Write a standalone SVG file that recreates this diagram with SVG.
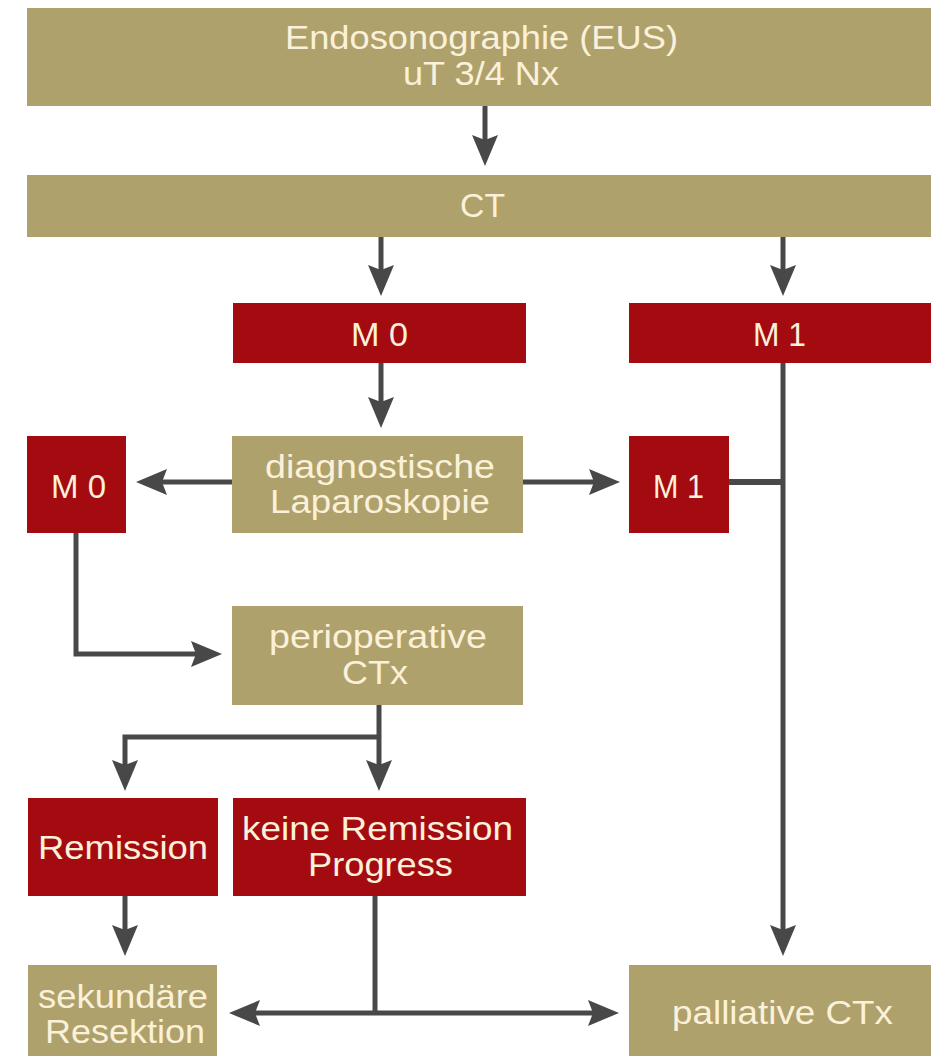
<svg xmlns="http://www.w3.org/2000/svg" width="931" height="1056" viewBox="0 0 931 1056">
<style>
.tan{fill:#afa16b}
.red{fill:#a30b10}
text{font-family:"Liberation Sans",Arial,sans-serif;font-size:34px;fill:#fbf1da;text-anchor:middle}
.ln{fill:none;stroke:#484848;stroke-width:5}
.ar{marker-end:url(#ah)}
</style>
<defs>
<marker id="ah" markerUnits="userSpaceOnUse" markerWidth="32" markerHeight="28" refX="20" refY="14" orient="auto-start-reverse" overflow="visible">
<path d="M0,1 L31,14 L0,27 L5,14 Z" fill="#484848"/>
</marker>
</defs>
<rect width="931" height="1056" fill="#ffffff"/>
<g id="eus">
<rect class="tan" x="27" y="8" width="910" height="98"/>
<text x="481.5" y="49" textLength="393" lengthAdjust="spacingAndGlyphs">Endosonographie (EUS)</text>
<text x="481" y="85" textLength="156" lengthAdjust="spacingAndGlyphs">uT 3/4 Nx</text>
</g>
<g id="ct">
<rect class="tan" x="27" y="175" width="910" height="62"/>
<text x="482.5" y="217" textLength="45" lengthAdjust="spacingAndGlyphs">CT</text>
</g>
<g id="m0top">
<rect class="red" x="233" y="303" width="293" height="60"/>
<text x="379.5" y="346" textLength="57" lengthAdjust="spacingAndGlyphs">M 0</text>
</g>
<g id="m1top">
<rect class="red" x="629" y="303" width="308" height="60"/>
<text x="779.5" y="346" textLength="53" lengthAdjust="spacingAndGlyphs">M 1</text>
</g>
<g id="m0small">
<rect class="red" x="27" y="436" width="99" height="97"/>
<text x="78.5" y="498" textLength="55" lengthAdjust="spacingAndGlyphs">M 0</text>
</g>
<g id="diag">
<rect class="tan" x="232" y="436" width="291" height="97"/>
<text x="380" y="478" textLength="230" lengthAdjust="spacingAndGlyphs">diagnostische</text>
<text x="380" y="513" textLength="220" lengthAdjust="spacingAndGlyphs">Laparoskopie</text>
</g>
<g id="m1small">
<rect class="red" x="629" y="436" width="100" height="97"/>
<text x="678.5" y="498" textLength="51" lengthAdjust="spacingAndGlyphs">M 1</text>
</g>
<g id="periop">
<rect class="tan" x="232" y="606" width="291" height="99"/>
<text x="378" y="648" textLength="218" lengthAdjust="spacingAndGlyphs">perioperative</text>
<text x="375" y="684" textLength="66" lengthAdjust="spacingAndGlyphs">CTx</text>
</g>
<g id="remission">
<rect class="red" x="28" y="798" width="190" height="98"/>
<text x="123" y="859" textLength="170" lengthAdjust="spacingAndGlyphs">Remission</text>
</g>
<g id="keine">
<rect class="red" x="233" y="798" width="293" height="98"/>
<text x="377.5" y="840" textLength="271" lengthAdjust="spacingAndGlyphs">keine Remission</text>
<text x="380.5" y="876" textLength="145" lengthAdjust="spacingAndGlyphs">Progress</text>
</g>
<g id="sekundaer">
<rect class="tan" x="28" y="965" width="189" height="100"/>
<text x="123" y="1008" textLength="170" lengthAdjust="spacingAndGlyphs">sekundäre</text>
<text x="125" y="1043" textLength="160" lengthAdjust="spacingAndGlyphs">Resektion</text>
</g>
<g id="palliativ">
<rect class="tan" x="629" y="965" width="308" height="100"/>
<text x="782.5" y="1024" textLength="221" lengthAdjust="spacingAndGlyphs">palliative CTx</text>
</g>
<g id="connectors">
<path class="ln ar" d="M485,106 V155"/>
<path class="ln ar" d="M381,237 V285"/>
<path class="ln ar" d="M783,237 V285"/>
<path class="ln ar" d="M381,363 V417"/>
<path class="ln ar" d="M232,482 H147"/>
<path class="ln ar" d="M523,482 H609"/>
<path class="ln" d="M729,482 H783" style="stroke-width:6"/>
<path class="ln ar" d="M783,363 V945"/>
<path class="ln ar" d="M76,533 V654 H211"/>
<path class="ln ar" d="M379,705 V780"/>
<path class="ln ar" d="M379,737 H125 V780"/>
<path class="ln ar" d="M125,896 V945"/>
<path class="ln" d="M375,896 V1013"/>
<path class="ln" d="M240,1013 H608" style="marker-start:url(#ah);marker-end:url(#ah)"/>
</g>
</svg>
